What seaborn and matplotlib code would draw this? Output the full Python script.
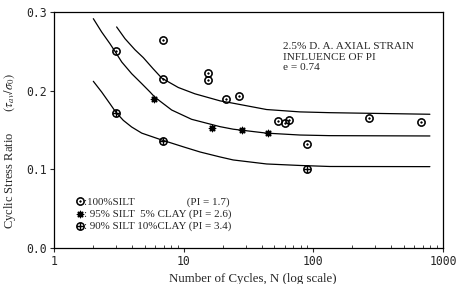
import matplotlib
matplotlib.use('Agg')
import matplotlib.pyplot as plt
import seaborn as sns

# %% data
silt_n = [3.0, 6.9, 6.9, 15.5, 15.5, 21.2, 26.6, 53, 60, 64.5, 90, 268, 679]
silt_csr = [0.250, 0.265, 0.215, 0.223, 0.213, 0.190, 0.193, 0.162, 0.159, 0.163, 0.132, 0.165, 0.160]
clay5_n = [5.9, 16.4, 28, 44.9]
clay5_csr = [0.189, 0.152, 0.150, 0.146]
clay10_n = [3.0, 6.9, 90]
clay10_csr = [0.171, 0.136, 0.100]

# fitted curves
upper_n = [3.04, 3.53, 4.21, 4.88, 5.8, 6.77, 9.09, 12.2, 19.1, 24.1, 43.6, 78.8, 134, 792]
upper_csr = [0.281, 0.266, 0.252, 0.242, 0.228, 0.216, 0.204, 0.196, 0.187, 0.184, 0.176, 0.173, 0.172, 0.170]
middle_n = [2.01, 2.33, 2.70, 2.95, 3.33, 3.97, 4.75, 5.50, 6.01, 8.08, 11.5, 19.1, 24.1, 43.6, 78.8, 134, 792]
middle_csr = [0.2915, 0.2746, 0.2597, 0.250, 0.2364, 0.2216, 0.2089, 0.1983, 0.1915, 0.1754, 0.1636,
              0.1542, 0.151, 0.146, 0.1436, 0.1428, 0.1424]
lower_n = [2.01, 2.33, 2.70, 2.99, 3.42, 3.97, 4.75, 6.77, 10.2, 13.4, 19.1, 24.1, 43.6, 78.8, 134, 792]
lower_csr = [0.2119, 0.1983, 0.1834, 0.1729, 0.1623, 0.1538, 0.1460, 0.1373, 0.128, 0.122, 0.1157,
             0.1119, 0.1068, 0.1049, 0.1036, 0.1034]

labels = [':100%SILT                   (PI = 1.7)',
          ': 95% SILT  5% CLAY (PI = 2.6)',
          ': 90% SILT 10%CLAY (PI = 3.4)']

sns.set_style('ticks')
plt.rcParams['font.family'] = ['Liberation Serif', 'DejaVu Serif']
plt.rcParams['mathtext.fontset'] = 'stix'

fig = plt.figure(figsize=(4.64, 2.84), dpi=100)
ax = fig.add_axes([0.1164, 0.1268, 0.8384, 0.8310])

for n, c in [(upper_n, upper_csr), (middle_n, middle_csr), (lower_n, lower_csr)]:
    sns.lineplot(x=n, y=c, ax=ax, color='black', lw=0.9, sort=False, legend=False)

sns.scatterplot(x=silt_n, y=silt_csr, ax=ax, marker=r'$\odot$', s=34, color='black',
                edgecolor='black', linewidth=0.5, label=labels[0])
sns.scatterplot(x=clay5_n, y=clay5_csr, ax=ax, marker=(8, 2, 0), s=20, color='black',
                linewidth=1.0, label=labels[1])
sns.scatterplot(x=clay10_n, y=clay10_csr, ax=ax, marker=r'$\oplus$', s=34, color='black',
                edgecolor='black', linewidth=0.5, label=labels[2])

ax.set_xscale('log')
ax.set_xlim(1, 1000)
ax.set_ylim(0, 0.3)
ax.set_xticks([1, 10, 100, 1000])
ax.set_xticklabels(['1', '10', '100', '1000'])
ax.set_yticks([0.0, 0.1, 0.2, 0.3])
ax.set_yticklabels(['0.0', '0.1', '0.2', '0.3'])
for lab in ax.get_xticklabels() + ax.get_yticklabels():
    lab.set_family('DejaVu Sans Mono')
    lab.set_fontsize(8.3)
ax.tick_params(which='major', direction='out', length=3, width=0.8, pad=2)
ax.tick_params(which='minor', direction='in', length=2, width=0.6)
for s in ax.spines.values():
    s.set_color('black')
    s.set_linewidth(0.9)

ax.set_xlabel('Number of Cycles, N (log scale)', fontsize=9.3)
ax.xaxis.set_label_coords(0.51, -0.105)
ax.set_ylabel(r'Cyclic Stress Ratio       $(\tau_{av}/\sigma_0)$', fontsize=9)
ax.yaxis.set_label_coords(-0.092, 0.41)

ax.text(0.588, 0.809, '2.5% D. A. AXIAL STRAIN\nINFLUENCE OF PI\ne = 0.74',
        transform=ax.transAxes, fontsize=8.1, va='center', ha='left', linespacing=1.2)

ax.legend(loc='upper left', bbox_to_anchor=(0.035, 0.25), frameon=False, fontsize=7.9,
          handlelength=0.8, handletextpad=0.0, labelspacing=0.2, borderpad=0.2)

fig.savefig('out.png', dpi=100)
